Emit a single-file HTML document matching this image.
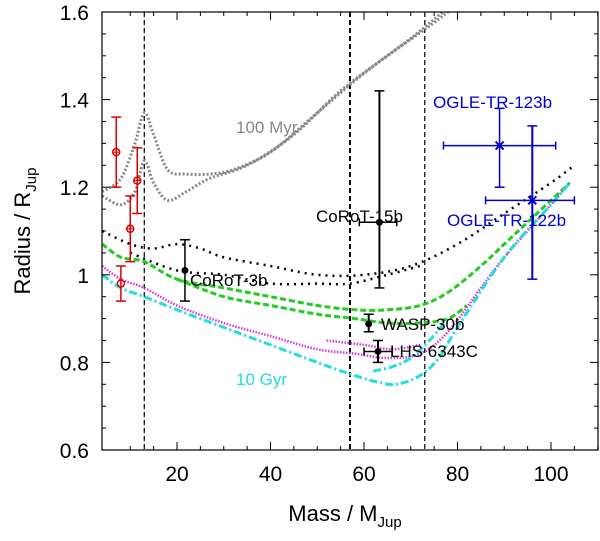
<!DOCTYPE html>
<html><head><meta charset="utf-8"><style>
html,body{margin:0;padding:0;background:#fff}
svg{display:block;font-family:"Liberation Sans",sans-serif}
</style></head><body>
<svg id="chart" width="600" height="541" viewBox="0 0 600 541"></svg>
<script>
const xTicks=[20,40,60,80,100];
const yTicks=[0.6,0.8,1.0,1.2,1.4,1.6];
const yTickLabels=["0.6","0.8","1","1.2","1.4","1.6"];
const vLines=[13,57,73];
const gray1M=[4,8,11,13,15,18,22,27,32,40,50,60,70,78];
const gray1R=[1.19,1.22,1.30,1.37,1.32,1.24,1.23,1.23,1.24,1.28,1.37,1.46,1.54,1.61];
const gray2M=[4,8,11,13,15,18,22,27,35,45,55,65,73,78];
const gray2R=[1.18,1.16,1.19,1.26,1.21,1.17,1.19,1.22,1.25,1.32,1.42,1.50,1.56,1.60];
const blk1M=[4,10,15,20,25,30,40,50,60,70,80,90,100,105];
const blk1R=[1.10,1.07,1.06,1.07,1.06,1.04,1.02,1.00,1.00,1.02,1.07,1.14,1.21,1.25];
const blk2M=[10,20,30,40,50,57,65,72];
const blk2R=[1.05,1.01,1.00,0.98,0.98,0.98,1.00,1.02];
const grn1M=[4,8,13,20,30,40,50,58,65,72,78,85,90,100,104];
const grn1R=[1.07,1.04,1.03,0.99,0.97,0.95,0.93,0.92,0.92,0.93,0.96,1.02,1.07,1.17,1.21];
const grn2M=[20,30,40,50,58,65,72,78,82];
const grn2R=[0.99,0.95,0.93,0.91,0.90,0.89,0.89,0.90,0.93];
const mag1M=[4,8,13,20,30,40,50,58,65,72,78,85,90,100,104];
const mag1R=[1.02,0.99,0.97,0.93,0.89,0.86,0.83,0.82,0.81,0.82,0.87,0.97,1.04,1.16,1.21];
const mag2M=[52,60,66,72];
const mag2R=[0.85,0.84,0.83,0.84];
const cyn1M=[4,8,13,20,30,40,50,58,63,67,72,76,80,90,100,104];
const cyn1R=[1.00,0.97,0.95,0.92,0.88,0.84,0.80,0.77,0.755,0.75,0.77,0.81,0.88,1.04,1.16,1.21];
const cyn2M=[62,66,70,74,78];
const cyn2R=[0.78,0.79,0.81,0.85,0.90];
const ptM=[7,10,11.5,8,21.7,63.3,61,63,89,96];
const ptR=[1.28,1.105,1.215,0.98,1.01,1.12,0.888,0.825,1.295,1.17];
const ptRlo=[1.20,1.03,1.14,0.94,0.94,0.97,0.87,0.80,1.20,0.99];
const ptRhi=[1.36,1.18,1.29,1.02,1.08,1.42,0.91,0.85,1.38,1.34];
const ptMlo=[7,10,11.5,8,21.7,59,61,60,77,86];
const ptMhi=[7,10,11.5,8,21.7,67,61,66,101,105];
const ptLabels=["","","","","CoRoT-3b","CoRoT-15b","WASP-30b","LHS 6343C","OGLE-TR-123b","OGLE-TR-122b"];

const L=102,R=598,T=12,B=450;
const X=m=>83.5+(m)*4.675;
const Y=r=>B-(r-0.6)*(B-T);
const svg=document.getElementById('chart');
const NS='http://www.w3.org/2000/svg';
function mk(tag,attrs,parent){const e=document.createElementNS(NS,tag);for(const k in attrs)e.setAttribute(k,attrs[k]);(parent||svg).appendChild(e);return e;}
function txt(x,y,s,attrs){const e=mk('text',Object.assign({x:x,y:y},attrs||{}));e.textContent=s;return e;}

vLines.forEach((m,i)=>{const l=mk('line',{x1:X(m),x2:X(m),y1:T,y2:B,stroke:'#000','stroke-width':i==1?2:1.2,'stroke-dasharray':'5,3'});

});

const clip=mk('clipPath',{id:'pc'});mk('rect',{x:L,y:T,width:R-L,height:B-T},clip);
const g=mk('g',{'clip-path':'url(#pc)'});
function smoothPath(ms,rs){
  const p=ms.map((m,i)=>[X(m),Y(rs[i])]);
  let d='M'+p[0][0].toFixed(1)+','+p[0][1].toFixed(1);
  for(let i=0;i<p.length-1;i++){
    const p0=p[i-1]||p[i],p1=p[i],p2=p[i+1],p3=p[i+2]||p2;
    const c1=[p1[0]+(p2[0]-p0[0])/6,p1[1]+(p2[1]-p0[1])/6];
    const c2=[p2[0]-(p3[0]-p1[0])/6,p2[1]-(p3[1]-p1[1])/6];
    d+=`C${c1[0].toFixed(1)},${c1[1].toFixed(1)} ${c2[0].toFixed(1)},${c2[1].toFixed(1)} ${p2[0].toFixed(1)},${p2[1].toFixed(1)}`;
  }
  return d;
}
function curveG(ms,rs,color,w,dash,name){
  const p=mk('path',{d:smoothPath(ms,rs),fill:'none',stroke:color,'stroke-width':w,'stroke-dasharray':dash},g);
  
  }
curveG(gray1M,gray1R,'#888',3,'2,2','curve-100myr-a');
curveG(gray2M,gray2R,'#888',3,'2,2','curve-100myr-b');
curveG(blk1M,blk1R,'#000',2.5,'2,5','curve-black-a');
curveG(blk2M,blk2R,'#000',2.5,'2,5','curve-black-b');
curveG(grn1M,grn1R,'#2c2',3,'6,3','curve-green-a');
curveG(grn2M,grn2R,'#2c2',3,'6,3','curve-green-b');
curveG(mag1M,mag1R,'#d3d',2.5,'1.5,1.5','curve-magenta-a');
curveG(mag2M,mag2R,'#d3d',2.5,'1.5,1.5','curve-magenta-b');
curveG(cyn1M,cyn1R,'#2dd',3,'8,3,2,3','curve-10gyr-a');
curveG(cyn2M,cyn2R,'#2dd',3,'8,3,2,3','curve-10gyr-b');

ptM.forEach((m,i)=>{
  const col=i<4?'#d00':(i>=8?'#0000cc':'#000');
  const grp=mk('g',{});
  
  
  const x=X(m),y=Y(ptR[i]);const sw=i>=5&&i<8?2:1.5;
  mk('line',{x1:x,x2:x,y1:Y(ptRlo[i]),y2:Y(ptRhi[i]),stroke:col,'stroke-width':i==9?2:sw},grp);
  mk('line',{x1:x-5,x2:x+5,y1:Y(ptRlo[i]),y2:Y(ptRlo[i]),stroke:col,'stroke-width':1.5},grp);
  mk('line',{x1:x-5,x2:x+5,y1:Y(ptRhi[i]),y2:Y(ptRhi[i]),stroke:col,'stroke-width':1.5},grp);
  if(ptMlo[i]!==ptMhi[i]){
    mk('line',{x1:X(ptMlo[i]),x2:X(ptMhi[i]),y1:y,y2:y,stroke:col,'stroke-width':1.5},grp);
    mk('line',{x1:X(ptMlo[i]),x2:X(ptMlo[i]),y1:y-4,y2:y+4,stroke:col,'stroke-width':1.5},grp);
    mk('line',{x1:X(ptMhi[i]),x2:X(ptMhi[i]),y1:y-4,y2:y+4,stroke:col,'stroke-width':1.5},grp);
  }
  if(i<4){mk('circle',{cx:x,cy:y,r:3.5,fill:'none',stroke:col,'stroke-width':1.5},grp);
    if(i<3){mk('line',{x1:x-3,x2:x+3,y1:y,y2:y,stroke:col},grp);mk('line',{x1:x,x2:x,y1:y-3,y2:y+3,stroke:col},grp);}}
  else if(i>=8){mk('path',{d:`M${x-4},${y-4}L${x+4},${y+4}M${x-4},${y+4}L${x+4},${y-4}`,stroke:col,'stroke-width':2},grp);}
  else mk('circle',{cx:x,cy:y,r:3.5,fill:col},grp);
});
const lab=[[190,286,'CoRoT-3b','#000'],[316,222,'CoRoT-15b','#000'],[381,330,'WASP-30b','#000'],[390,357,'LHS 6343C','#000'],[433,108,'OGLE-TR-123b','#0000cc'],[447,226,'OGLE-TR-122b','#0000cc'],[236,133,'100 Myr','#888'],[236,385,'10 Gyr','#2dd']];
lab.forEach(a=>{const t=txt(a[0],a[1],a[2],{'font-size':17,fill:a[3]});

});

const fr=mk('rect',{x:L,y:T,width:R-L,height:B-T,fill:'none',stroke:'#000','stroke-width':1.2});


for(let m=10;m<=110;m+=5){const x=X(m);if(x<L||x>R)continue;const len=m%20==0?8:4;
  mk('line',{x1:x,x2:x,y1:B,y2:B-len,stroke:'#000'});mk('line',{x1:x,x2:x,y1:T,y2:T+len,stroke:'#000'});}
for(let k=0;k<=20;k++){const r=0.6+k*0.05;const y=Y(r);const len=k%4==0?8:4;
  mk('line',{x1:L,x2:L+len,y1:y,y2:y,stroke:'#000'});mk('line',{x1:R,x2:R-len,y1:y,y2:y,stroke:'#000'});}
xTicks.forEach(m=>{const t=txt(X(m),481,String(m),{'font-size':21,'text-anchor':'middle'});

});
yTicks.forEach((r,i)=>{const t=txt(89,Y(r)+8,yTickLabels[i],{'font-size':21,'text-anchor':'end'});

});
const xt=txt(345,521,'',{'font-size':22,'text-anchor':'middle'});
xt.innerHTML='Mass / M<tspan font-size="15" dy="6">Jup</tspan>';


const yt=txt(0,0,'',{'font-size':22,'text-anchor':'middle',transform:'translate(30,231) rotate(-90)'});
yt.innerHTML='Radius / R<tspan font-size="15" dy="6">Jup</tspan>';


</script>
</body></html>
